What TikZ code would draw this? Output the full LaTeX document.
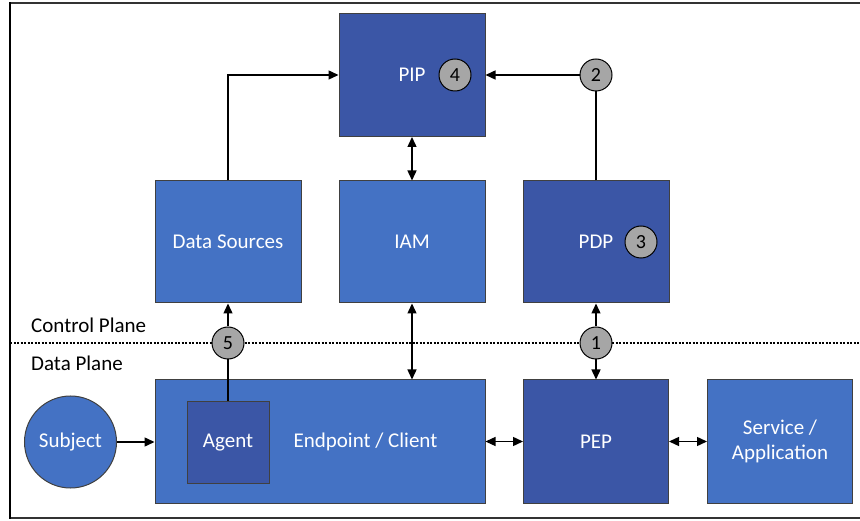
\documentclass[tikz,border=0pt]{standalone}
\usepackage{fontspec}
\setmainfont{Carlito}
\usetikzlibrary{arrows.meta}
\definecolor{lightblue}{HTML}{4472C4}
\definecolor{darkblue}{HTML}{3B56A6}
\definecolor{circgray}{HTML}{A6A6A6}
\definecolor{edge}{HTML}{404040}
\begin{document}
\begin{tikzpicture}[x=1pt,y=-1pt,
  box/.style={draw=edge,line width=1pt,rectangle,minimum width=146pt,minimum height=122pt,inner sep=0pt,text=white,font=\fontsize{21}{25}\selectfont,align=center},
  lbox/.style={box,fill=lightblue},
  dbox/.style={box,fill=darkblue},
  num/.style={circle,draw=black,line width=1pt,fill=circgray,minimum size=32pt,inner sep=0pt,font=\fontsize{20}{24}\selectfont},
  lbl/.style={font=\fontsize{21}{25}\selectfont,inner sep=0pt},
  conn/.style={line width=1.4pt,black},
  arr/.style={conn,-{Triangle[length=10pt,width=9pt]}},
  darr/.style={conn,{Triangle[length=10pt,width=9pt]}-{Triangle[length=10pt,width=9pt]}}
]
\useasboundingbox (0,0) rectangle (860,521);
% frame
\draw[line width=2pt,edge!80!black] (10,3.5) -- (860,3.5);
\draw[line width=2pt,edge!80!black] (10,517.5) -- (860,517.5);
\draw[line width=1.5pt,black] (10,2.5) -- (10,518.5);
% plane separator
\draw[line width=1.3pt,dash pattern=on 2pt off 1.5pt] (10,343) -- (860,343);
\node[lbl,anchor=west] (cp) at (31,325) {Control Plane};
\node[lbl,anchor=west] (dp) at (31,363) {Data Plane};
% boxes
\node[dbox,minimum height=123pt] (pip) at (412,75) {PIP};
\node[lbox] (ds) at (228,242) {Data Sources};
\node[lbox] (iam) at (412,242) {IAM};
\node[dbox] (pdp) at (596,242) {PDP};
\node[lbox,minimum width=330pt,minimum height=123pt] (ep) at (320,441.5) {};
\node[lbl,text=white] (eplbl) at (365.5,442) {Endpoint / Client};
\node[dbox,minimum width=82pt,minimum height=82pt] (agent) at (228,442.5) {Agent};
\node[dbox,minimum width=145pt,minimum height=123pt] (pep) at (596,441.5) {PEP};
\node[lbox,minimum width=145pt,minimum height=123pt] (svc) at (780,441.5) {Service /\\Application};
\node[circle,draw=edge,line width=1pt,fill=lightblue,minimum size=92pt,inner sep=0pt,text=white,font=\fontsize{21}{25}\selectfont] (subj) at (70.5,442) {Subject};
% numbered circles
\node[num] (n4) at (455,75) {4};
\node[num] (n2) at (596,75) {2};
\node[num] (n3) at (641,242) {3};
\node[num] (n1) at (596,343) {1};
\node[num] (n5) at (228,343) {5};
% connectors
\draw[arr] (ds.north) |- (pip.west);
\draw[conn] (pdp.north) -- (n2.south);
\draw[arr] (n2.west) -- (pip.east);
\draw[darr] (pip.south) -- (iam.north);
\draw[darr] (iam.south) -- (iam.south |- ep.north);
\draw[arr] (n1.north) -- (pdp.south);
\draw[arr] (n1.south) -- (pep.north);
\draw[conn] (agent.north) -- (n5.south);
\draw[arr] (n5.north) -- (ds.south);
\draw[arr] (subj.east) -- (subj.east -| ep.west);
\draw[darr] (ep.east |- pep.west) -- (pep.west);
\draw[darr] (pep.east) -- (svc.west);
\end{tikzpicture}
\end{document}
